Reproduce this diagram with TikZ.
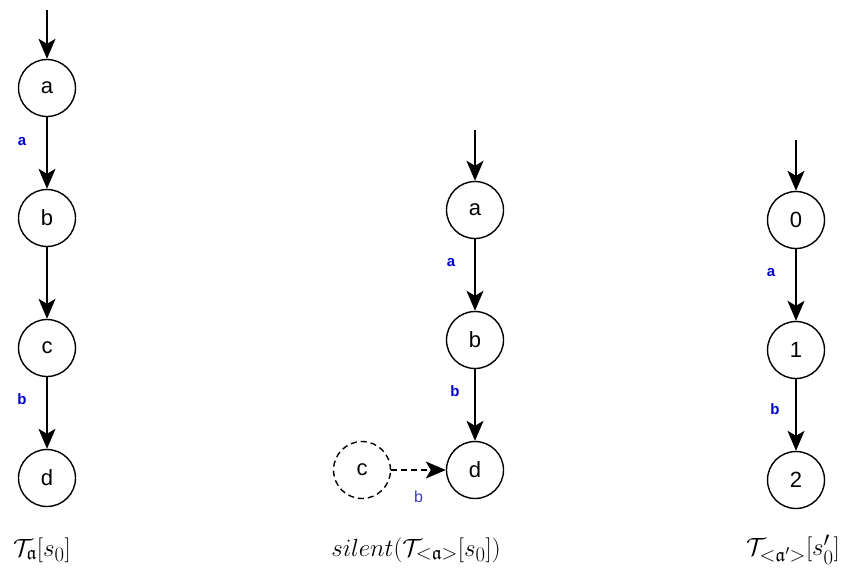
\documentclass[tikz,border=0pt]{standalone}
\usepackage{amssymb}
\usepackage{fontspec}
\newfontfamily\nodefont{Liberation Sans}
\usetikzlibrary{arrows.meta}
\definecolor{lblblue}{RGB}{0,0,204}
\definecolor{lblblue2}{RGB}{60,60,200}
\begin{document}
\begin{tikzpicture}[x=1pt,y=-1pt,
  state/.style={circle,draw,line width=1.4pt,minimum size=57pt,inner sep=0pt,font=\nodefont\fontsize{22}{26}\selectfont},
  ghost/.style={state,dash pattern=on 6pt off 4pt},
  arr/.style={line width=1.4pt,-{Stealth[length=20pt,width=17pt,inset=5pt]}},
  initarr/.style={line width=2pt,-{Stealth[length=20pt,width=17pt,inset=5pt]}},
  lbl/.style={font=\nodefont\bfseries\fontsize{15}{18}\selectfont,text=lblblue},
  lbllight/.style={font=\nodefont\fontsize{16}{19}\selectfont,text=lblblue2},
  captext/.style={font=\fontsize{28}{32}\selectfont}
]
\useasboundingbox (0,0) rectangle (842,570);
% left
\node[state] (la) at (47,88) {a};
\node[state] (lb) at (47,218) {b};
\node[state] (lc) at (47,348) {c};
\node[state] (ld) at (47,478) {d};
\coordinate (lin) at (47,10);
\draw[initarr] (lin) -- (la);
\draw[arr] (la) -- node[lbl,pos=0.34,xshift=-25pt]{a} (lb);
\draw[arr] (lb) -- (lc);
\draw[arr] (lc) -- node[lbl,pos=0.31,xshift=-25pt]{b} (ld);
\node[captext] (lcap) at (42,550) {$\mathcal{T}_{\mathfrak{a}}[s_0]$};
% middle
\node[state] (ma) at (475,210) {a};
\node[state] (mb) at (475,340) {b};
\node[state] (md) at (475,470) {d};
\node[ghost] (mc) at (362,470) {c};
\coordinate (min) at (475,130);
\draw[initarr] (min) -- (ma);
\draw[arr] (ma) -- node[lbl,pos=0.32,xshift=-24pt]{a} (mb);
\draw[arr] (mb) -- node[lbl,pos=0.31,xshift=-20pt]{b} (md);
\draw[arr,dash pattern=on 6pt off 4pt] (mc) -- node[lbllight,pos=0.5,yshift=-27pt]{b} (md);
\node[captext] (mcap) at (416,550) {$silent(\mathcal{T}_{<\mathfrak{a}>}[s_0])$};
% right
\node[state] (r0) at (796,220) {0};
\node[state] (r1) at (796,350) {1};
\node[state] (r2) at (796,480) {2};
\coordinate (rin) at (796,140);
\draw[initarr] (rin) -- (r0);
\draw[arr] (r0) -- node[lbl,pos=0.32,xshift=-25pt]{a} (r1);
\draw[arr] (r1) -- node[lbl,pos=0.42,xshift=-21pt]{b} (r2);
\node[captext] (rcap) at (793,550) {$\mathcal{T}_{<\mathfrak{a}'>}[s'_0]$};
\end{tikzpicture}
\end{document}
